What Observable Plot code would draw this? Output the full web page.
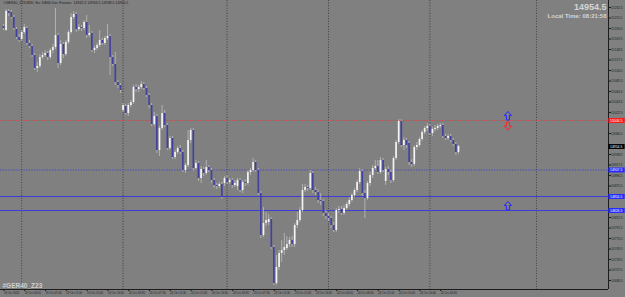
<!DOCTYPE html>
<html><head><meta charset="utf-8">
<script src="https://cdn.jsdelivr.net/npm/d3@7"></script>
<script src="https://cdn.jsdelivr.net/npm/@observablehq/plot@0.6"></script>
<style>
html,body{margin:0;padding:0;background:#808080;}
svg{display:block}
</style></head><body><div id="chart"></div>
<script>
const symbol = "#GER40_Z23";
const timeframe = "M30";
const description = "Eu: DE40 Dec Futures";
const localTime = "Local Time: 08:21:58";

const open = [
15194.5,15186.5,15224.5,15222.5,15212.5,15188.5,15172.5,15168.5,15182.5,15190.5,
15160.5,15154.5,15136.5,15110.5,15114.5,15132.5,15136.5,15140.5,15132.5,15146.5,
15152.5,15176.5,15120.5,15158.5,15138.5,15162.5,15182.5,15212.5,15218.5,15188.5,
15192.5,15190.5,15202.5,15176.5,15180.5,15146.5,15150.5,15156.5,15166.5,15160.5,
15170.5,15174.5,15132.5,15118.5,15082.5,15076.5,15026.5,15034.5,15020.5,15036.5,
15042.5,15072.5,15068.5,15072.5,15078.5,15070.5,15056.5,15036.5,14998.5,15014.5,
14946.5,14990.5,15020.5,14996.5,14950.5,14970.5,14932.5,14942.5,14950.5,14942.5,
14906.5,14916.5,14966.5,14986.5,14910.5,14920.5,14890.5,14908.5,14900.5,14912.5,
14906.5,14886.5,14876.5,14874.5,14878.5,14880.5,14890.5,14882.5,14886.5,14876.5,
14874.5,14886.5,14866.5,14882.5,14880.5,14902.5,14906.5,14922.5,14906.5,14860.5,
14776.5,14800.5,14802.5,14808.5,14752.5,14680.5,14712.5,14740.5,14746.5,14750.5,
14758.5,14766.5,14758.5,14796.5,14806.5,14826.5,14866.5,14872.5,14870.5,14900.5,
14866.5,14862.5,14846.5,14844.5,14820.5,14814.5,14810.5,14796.5,14786.5,14826.5,
14828.5,14820.5,14830.5,14838.5,14846.5,14856.5,14866.5,14882.5,14904.5,14860.5,
14850.5,14880.5,14896.5,14910.5,14914.5,14902.5,14926.5,14884.5,14908.5,14902.5,
14886.5,14930.5,14962.5,15004.5,14956.5,14966.5,14960.5,14922.5,14918.5,14952.5,
14956.5,14968.5,14982.5,14990.5,14994.5,14980.5,14988.5,14990.5,14994.5,14996.5,
14974.5,14970.5,14974.5,14966.5,14958.5,14942.5];

const high = [
15198.5,15228.5,15228.5,15226.5,15216.5,15192.5,15178.5,15186.5,15198.5,15194.5,
15166.5,15158.5,15140.5,15122.5,15138.5,15142.5,15146.5,15144.5,15150.5,15158.5,
15230.5,15180.5,15166.5,15162.5,15166.5,15186.5,15220.5,15224.5,15222.5,15198.5,
15196.5,15206.5,15216.5,15196.5,15184.5,15154.5,15160.5,15186.5,15170.5,15174.5,
15198.5,15178.5,15136.5,15142.5,15086.5,15080.5,15040.5,15038.5,15040.5,15046.5,
15076.5,15078.5,15076.5,15084.5,15082.5,15074.5,15060.5,15040.5,15022.5,15018.5,
14994.5,15036.5,15026.5,15000.5,14974.5,14974.5,14946.5,14954.5,14956.5,14946.5,
14920.5,14986.5,14990.5,14990.5,14926.5,14924.5,14914.5,14912.5,14926.5,14916.5,
14910.5,14890.5,14880.5,14882.5,14882.5,14894.5,14896.5,14890.5,14890.5,14886.5,
14890.5,14890.5,14886.5,14888.5,14906.5,14910.5,14930.5,14926.5,14910.5,14864.5,
14832.5,14822.5,14818.5,14812.5,14756.5,14736.5,14746.5,14766.5,14780.5,14774.5,
14772.5,14774.5,14800.5,14822.5,14832.5,14878.5,14878.5,14876.5,14906.5,14904.5,
14872.5,14868.5,14860.5,14848.5,14826.5,14820.5,14814.5,14802.5,14830.5,14834.5,
14834.5,14836.5,14842.5,14852.5,14860.5,14870.5,14886.5,14910.5,14908.5,14866.5,
14884.5,14902.5,14916.5,14926.5,14926.5,14932.5,14930.5,14912.5,14914.5,14908.5,
14934.5,14966.5,15008.5,15008.5,14972.5,14970.5,14964.5,14928.5,14956.5,14962.5,
14972.5,14986.5,14994.5,15000.5,14998.5,14992.5,14996.5,14998.5,15000.5,15000.5,
14978.5,14978.5,14978.5,14970.5,14962.5,14956.5];

const low = [
15186.5,15184.5,15214.5,15208.5,15186.5,15168.5,15162.5,15164.5,15178.5,15156.5,
15150.5,15132.5,15106.5,15102.5,15110.5,15128.5,15132.5,15126.5,15128.5,15140.5,
15148.5,15110.5,15116.5,15130.5,15134.5,15158.5,15178.5,15208.5,15182.5,15184.5,
15184.5,15186.5,15170.5,15172.5,15142.5,15140.5,15146.5,15152.5,15156.5,15156.5,
15166.5,15096.5,15114.5,15076.5,15070.5,15060.5,15022.5,15016.5,15014.5,15032.5,
15038.5,15062.5,15062.5,15068.5,15066.5,15052.5,15030.5,14994.5,14994.5,14940.5,
14934.5,14986.5,14992.5,14946.5,14946.5,14928.5,14928.5,14938.5,14938.5,14902.5,
14900.5,14912.5,14960.5,14904.5,14906.5,14884.5,14880.5,14894.5,14896.5,14902.5,
14880.5,14870.5,14868.5,14870.5,14848.5,14874.5,14878.5,14878.5,14870.5,14872.5,
14866.5,14862.5,14860.5,14874.5,14876.5,14896.5,14902.5,14902.5,14856.5,14770.5,
14772.5,14794.5,14796.5,14748.5,14676.5,14676.5,14706.5,14722.5,14736.5,14746.5,
14752.5,14752.5,14752.5,14790.5,14802.5,14822.5,14862.5,14864.5,14866.5,14860.5,
14856.5,14840.5,14836.5,14814.5,14808.5,14804.5,14790.5,14782.5,14782.5,14820.5,
14816.5,14816.5,14826.5,14834.5,14842.5,14852.5,14862.5,14878.5,14854.5,14810.5,
14846.5,14874.5,14890.5,14906.5,14898.5,14898.5,14902.5,14876.5,14896.5,14880.5,
14882.5,14926.5,14958.5,14952.5,14946.5,14950.5,14916.5,14912.5,14914.5,14946.5,
14952.5,14964.5,14978.5,14984.5,14976.5,14974.5,14984.5,14986.5,14990.5,14970.5,
14966.5,14966.5,14962.5,14954.5,14936.5,14938.5];

const close = [
15190.5,15224.5,15220.5,15212.5,15190.5,15172.5,15166.5,15182.5,15192.5,15160.5,
15154.5,15136.5,15110.5,15114.5,15132.5,15136.5,15140.5,15132.5,15146.5,15152.5,
15176.5,15120.5,15158.5,15138.5,15162.5,15182.5,15212.5,15218.5,15188.5,15192.5,
15190.5,15202.5,15176.5,15180.5,15146.5,15150.5,15156.5,15166.5,15160.5,15170.5,
15174.5,15132.5,15118.5,15082.5,15076.5,15066.5,15036.5,15020.5,15036.5,15042.5,
15072.5,15068.5,15072.5,15078.5,15070.5,15056.5,15036.5,14998.5,15014.5,14946.5,
14990.5,15020.5,14996.5,14950.5,14970.5,14932.5,14942.5,14950.5,14942.5,14906.5,
14916.5,14966.5,14986.5,14910.5,14920.5,14890.5,14908.5,14900.5,14912.5,14906.5,
14886.5,14876.5,14874.5,14878.5,14852.5,14890.5,14882.5,14886.5,14876.5,14880.5,
14886.5,14866.5,14882.5,14880.5,14902.5,14906.5,14922.5,14906.5,14860.5,14776.5,
14800.5,14806.5,14808.5,14752.5,14680.5,14712.5,14740.5,14746.5,14752.5,14758.5,
14766.5,14758.5,14796.5,14806.5,14826.5,14866.5,14872.5,14870.5,14900.5,14866.5,
14862.5,14846.5,14844.5,14820.5,14814.5,14810.5,14796.5,14786.5,14826.5,14828.5,
14820.5,14830.5,14838.5,14846.5,14856.5,14866.5,14882.5,14904.5,14860.5,14850.5,
14880.5,14896.5,14910.5,14914.5,14902.5,14926.5,14906.5,14908.5,14902.5,14886.5,
14930.5,14962.5,15004.5,14956.5,14966.5,14956.5,14922.5,14918.5,14952.5,14956.5,
14968.5,14982.5,14990.5,14994.5,14980.5,14988.5,14990.5,14994.5,14996.5,14974.5,
14970.5,14974.5,14966.5,14958.5,14942.5,14954.5];

// time-axis tick labels (every 8 bars of M30)
const labelBars = [0,8,16,24,32,40,48,56,64,72,80,88,96,104,112,120,128,136,144,152,160,168];
const timeLabels = ["18 Oct 2023","19 Oct 03:00","19 Oct 07:00","19 Oct 11:00","19 Oct 15:00","19 Oct 19:00",
  "20 Oct 03:30","20 Oct 07:30","20 Oct 11:30","20 Oct 15:30","20 Oct 19:30",
  "23 Oct 03:30","23 Oct 07:30","23 Oct 11:30","23 Oct 15:30","23 Oct 19:30",
  "24 Oct 04:00","24 Oct 08:00","24 Oct 12:00","24 Oct 16:00","24 Oct 20:00","25 Oct 04:30"];
const daySeparators = [7,46,86,125,164,205];

// price-axis tick labels
const priceTicks = [14686.5,14707.5,14728.5,14749.5,14770.5,14791.5,14812.5,14833.5,14854.5,14875.5,
  14896.5,14917.5,14938.5,14959.5,14980.5,15001.5,15022.5,15043.5,15064.5,15085.5,15106.5,
  15127.5,15148.5,15169.5,15190.5,15211.5,15232.5];

// horizontal levels
const redLevels = [15006.5];
const blueDottedLevels = [14907.5];
const blueSolidLevels = [14854.5, 14826.5];
const arrowBars = [194, 194, 194];
const arrowPrices = [15006.5, 15006.5, 14826.5];
const arrowDirs = ["up", "down", "up"];

const xDomain = [-1.15, 232.7];
const yDomain = [14668.5, 15246.5];

const candles = open.map((o, i) => ({i, open: o, high: high[i], low: low[i], close: close[i]}));
const last = candles[candles.length - 1];
const lastPrice = last.close;
const labelMap = new Map(labelBars.map((b, k) => [b, timeLabels[k]]));
const header = `${symbol},${timeframe}  ${description}  ${last.open.toFixed(1)} ${last.high.toFixed(1)} ${last.low.toFixed(1)} ${last.close.toFixed(1)}`;

const boxes = [
  ...redLevels.map(p => ({price: p, bg: "#ff1a1a"})),
  ...blueDottedLevels.map(p => ({price: p, bg: "#2a2aff"})),
  ...blueSolidLevels.map(p => ({price: p, bg: "#2a2aff"})),
  {price: lastPrice, bg: "#000000"}
];
// hide axis labels that would sit under a price box
const visibleTicks = priceTicks.filter(t => boxes.every(b => Math.abs(b.price - t) > 8));
const arrows = arrowBars.map((b, k) => ({bar: b, price: arrowPrices[k], dir: arrowDirs[k]}));

// hollow arrow glyphs (Wingdings-style)
const upArrow = {draw(ctx) {
  ctx.moveTo(0, -9); ctx.lineTo(3.6, -5); ctx.lineTo(1.5, -5); ctx.lineTo(1.5, -0.5);
  ctx.lineTo(-1.5, -0.5); ctx.lineTo(-1.5, -5); ctx.lineTo(-3.6, -5); ctx.closePath();
}};
const downArrow = {draw(ctx) {
  ctx.moveTo(0, 9.5); ctx.lineTo(3.6, 5.5); ctx.lineTo(1.5, 5.5); ctx.lineTo(1.5, 1.5);
  ctx.lineTo(-1.5, 1.5); ctx.lineTo(-1.5, 5.5); ctx.lineTo(-3.6, 5.5); ctx.closePath();
}};

const font = "'Liberation Sans', Arial, sans-serif";

const chart = Plot.plot({
  width: 625, height: 297,
  marginTop: 0, marginLeft: 0, marginRight: 17, marginBottom: 8,
  style: {background: "#808080", color: "#1c1c1c", fontFamily: font, overflow: "visible"},
  x: {domain: xDomain, axis: null},
  y: {domain: yDomain, axis: null},
  marks: [
    Plot.ruleX(daySeparators, {stroke: "#3a3a3a", strokeDasharray: "1,1.6", strokeWidth: 0.9}),
    Plot.ruleY(redLevels, {stroke: "#e23c3c", strokeDasharray: "1.3,1.3", strokeWidth: 0.8}),
    Plot.ruleY(blueDottedLevels, {stroke: "#3a3ad0", strokeDasharray: "1.3,1.3", strokeWidth: 0.8}),
    Plot.ruleY(blueSolidLevels, {stroke: "#3c3cd8", strokeWidth: 1}),
    Plot.ruleX(candles, {x: "i", y1: "low", y2: "high", stroke: "#bdbdbd", strokeWidth: 0.8}),
    Plot.ruleX(candles, {x: "i", y1: "open", y2: "close", strokeWidth: 1.7,
      stroke: d => d.close >= d.open ? "#f4f4f4" : "#40409f"}),
    Plot.dot(arrows.filter(a => a.dir === "up"), {x: "bar", y: "price", symbol: upArrow, r: 4,
      stroke: "#2424ff", fill: "none", strokeWidth: 1}),
    Plot.dot(arrows.filter(a => a.dir === "down"), {x: "bar", y: "price", symbol: downArrow, r: 4,
      stroke: "#ff2424", fill: "none", strokeWidth: 1}),
    Plot.ruleY([yDomain[0]], {stroke: "#1c1c1c", strokeWidth: 1}),
    Plot.ruleX([xDomain[1]], {stroke: "#1c1c1c", strokeWidth: 1}),
    Plot.axisX({ticks: labelBars, tickFormat: d => labelMap.get(d), tickSize: 2, tickPadding: 0.6,
      fontSize: 2.8, textAnchor: "start", dx: 0.4}),
    Plot.axisY({anchor: "right", ticks: visibleTicks, tickFormat: d => d.toFixed(1), tickSize: 2,
      tickPadding: 0.6, fontSize: 3.2}),
    Plot.ruleY(boxes, {y: "price", x1: xDomain[1] + 0.15, x2: xDomain[1] + 6.4, stroke: "bg", strokeWidth: 5}),
    Plot.text(boxes, {y: "price", x: xDomain[1] + 0.6, text: d => d.price.toFixed(1), fill: "white",
      fontSize: 3.4, textAnchor: "start"}),
    Plot.text([header], {frameAnchor: "top-left", dx: 3, dy: 0.8, lineAnchor: "top", fontSize: 3.6, fill: "#1c1c1c"}),
    Plot.text([lastPrice.toFixed(1)], {frameAnchor: "top-right", dx: -2, dy: 3.2, lineAnchor: "top",
      fontSize: 9, fontWeight: "bold", fill: "#d4d4d4"}),
    Plot.text([localTime], {frameAnchor: "top-right", dx: -2, dy: 13.2, lineAnchor: "top",
      fontSize: 6, fontWeight: "bold", fill: "#d4d4d4"}),
    Plot.text([symbol], {frameAnchor: "bottom-left", dx: 2, dy: -1.5, lineAnchor: "bottom",
      fontSize: 6.5, fontWeight: "bold", fill: "#cfcfcf"})
  ]
});
document.getElementById("chart").appendChild(chart);
</script></body></html>
